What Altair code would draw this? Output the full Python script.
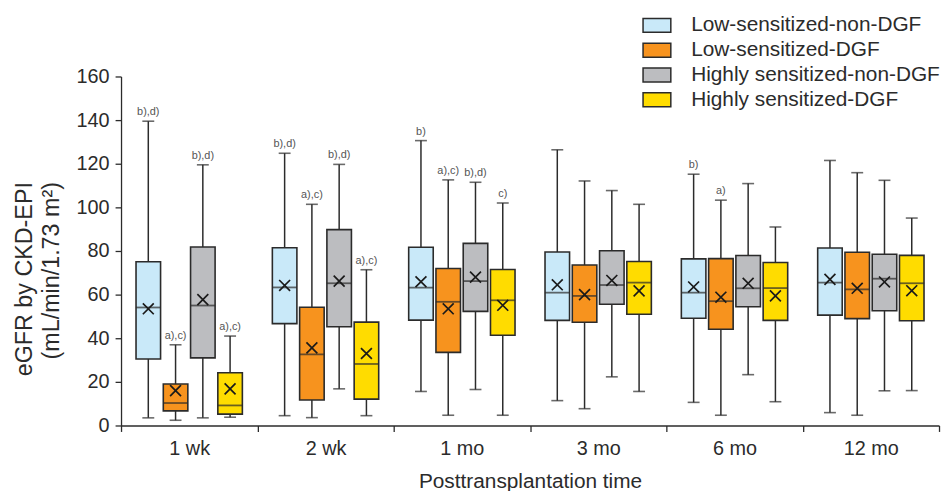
import altair as alt
import pandas as pd

times = ["1 wk", "2 wk", "1 mo", "3 mo", "6 mo", "12 mo"]
groups = ["Low-sensitized-non-DGF", "Low-sensitized-DGF",
          "Highly sensitized-non-DGF", "Highly sensitized-DGF"]
colors = ["#c9e9f9", "#f7931e", "#bcbdc0", "#ffdc00"]

# Low-sensitized-non-DGF
lnd_min = [3.5, 4.5, 15.6, 11.4, 10.6, 5.9]
lnd_q1 = [30.5, 46.7, 48.3, 48.2, 49.2, 50.6]
lnd_med = [54.1, 63.3, 63.2, 60.9, 60.9, 65.5]
lnd_q3 = [75.1, 81.5, 81.7, 79.5, 76.4, 81.4]
lnd_max = [139.5, 124.8, 130.6, 126.4, 115.2, 121.5]
lnd_mean = [53.5, 64.2, 65.9, 64.5, 63.5, 67.0]
lnd_note = ["b),d)", "b),d)", "b)", "", "b)", ""]

# Low-sensitized-DGF
ld_min = [2.4, 3.6, 4.7, 7.7, 4.7, 4.7]
ld_q1 = [6.7, 11.7, 33.5, 47.3, 44.1, 49.0]
ld_med = [10.3, 32.6, 56.7, 59.4, 57.0, 62.4]
ld_q3 = [19.0, 54.2, 72.0, 73.6, 76.5, 79.4]
ld_max = [37.0, 101.4, 112.6, 112.1, 103.3, 115.9]
ld_mean = [16.0, 35.6, 53.5, 60.0, 58.8, 62.9]
ld_note = ["a),c)", "a),c)", "a),c)", "", "a)", ""]

# Highly sensitized-non-DGF
hnd_min = [3.5, 16.8, 16.5, 22.3, 23.3, 15.9]
hnd_q1 = [31.0, 45.3, 52.3, 55.6, 54.4, 52.6]
hnd_med = [55.0, 65.2, 66.2, 64.4, 62.9, 67.3]
hnd_q3 = [81.8, 89.8, 83.5, 80.1, 77.9, 78.5]
hnd_max = [119.5, 119.7, 111.5, 107.7, 110.9, 112.4]
hnd_mean = [57.7, 66.2, 68.0, 66.5, 65.2, 65.8]
hnd_note = ["b),d)", "b),d)", "b),d)", "", "", ""]

# Highly sensitized-DGF
hd_min = [3.8, 4.5, 4.7, 15.6, 10.9, 16.0]
hd_q1 = [5.2, 12.1, 41.4, 51.0, 48.2, 48.0]
hd_med = [9.2, 28.2, 57.4, 65.5, 63.0, 65.2]
hd_q3 = [24.2, 47.4, 71.5, 75.2, 74.7, 78.0]
hd_max = [41.0, 71.4, 102.0, 101.4, 91.0, 95.1]
hd_mean = [16.8, 33.0, 55.1, 61.7, 59.4, 61.8]
hd_note = ["a),c)", "a),c)", "c)", "", "", ""]

series = [
    (lnd_min, lnd_q1, lnd_med, lnd_q3, lnd_max, lnd_mean, lnd_note),
    (ld_min, ld_q1, ld_med, ld_q3, ld_max, ld_mean, ld_note),
    (hnd_min, hnd_q1, hnd_med, hnd_q3, hnd_max, hnd_mean, hnd_note),
    (hd_min, hd_q1, hd_med, hd_q3, hd_max, hd_mean, hd_note),
]

rows = []
for g, (mn, q1, md, q3, mx, me, nt) in zip(groups, series):
    for i, t in enumerate(times):
        rows.append(dict(time=t, group=g, lo=mn[i], q1=q1[i], med=md[i],
                         q3=q3[i], hi=mx[i], mean=me[i], note=nt[i]))
df = pd.DataFrame(rows)

FONT = "Liberation Sans"
INK = "#2b2b2b"

x = alt.X("time:N", sort=times,
          scale=alt.Scale(paddingInner=0, paddingOuter=0),
          axis=alt.Axis(title="Posttransplantation time", labelAngle=0,
                        tickBand="extent", labelFontSize=20, titleFontSize=21,
                        labelPadding=7, titlePadding=13, titleFontWeight="normal"))
xo = alt.XOffset("group:N", sort=groups,
                 scale=alt.Scale(domain=groups, paddingInner=0.1, paddingOuter=0.55))

yscale = alt.Scale(domain=[0, 160], nice=False, zero=True)
yaxis = alt.Axis(title=["eGFR by CKD-EPI", "(mL/min/1.73 m²)"],
                 values=list(range(0, 161, 20)), labelFontSize=20,
                 titleFontSize=23.5, titleFontWeight="normal", labelPadding=6,
                 titlePadding=13, titleLineHeight=27, grid=False,
                 titleAlign="right", titleY=106)


def Y(field):
    return alt.Y(field, type="quantitative", scale=yscale, axis=yaxis)


base = alt.Chart(df).encode(x=x, xOffset=xo)

whisk = base.mark_rule(color=INK, strokeWidth=1.5).encode(
    y=Y("lo"), y2=alt.Y2("hi"))
cap_lo = base.mark_tick(color=INK, size=12, thickness=1.6).encode(y=Y("lo"))
cap_hi = base.mark_tick(color=INK, size=12, thickness=1.6).encode(y=Y("hi"))
box = base.mark_bar(stroke=INK, strokeWidth=1.6).encode(
    y=Y("q1"), y2=alt.Y2("q3"),
    fill=alt.Fill("group:N", sort=groups,
                  scale=alt.Scale(domain=groups, range=colors),
                  legend=alt.Legend(title=None, orient="none", legendX=530,
                                    legendY=-62, symbolType="M-2,-1H2V1H-2Z",
                                    symbolSize=196, symbolStrokeColor=INK,
                                    symbolStrokeWidth=1.5, labelFontSize=21,
                                    labelOffset=24, rowPadding=3, padding=0,
                                    labelColor=INK, labelLimit=400)))
med = base.mark_tick(color=INK, size=25, thickness=1.8).encode(y=Y("med"))
mean = base.mark_point(shape="M-1,-1L1,1M-1,1L1,-1", size=121, strokeWidth=1.7,
                       color="#1a1a1a", filled=False, opacity=1).encode(y=Y("mean"))
note = base.mark_text(fontSize=11, color="#555555", baseline="bottom", dy=-4,
                      font=FONT).encode(y=Y("hi"), text="note:N")

chart = alt.layer(whisk, cap_lo, cap_hi, box, med, mean, note).properties(
    width=825, height=352,
    autosize=alt.AutoSizeParams(type="none"),
    padding={"left": 114, "top": 67, "right": 2, "bottom": 64},
    background="white",
).configure_view(stroke=None).configure_axis(
    domainColor=INK, tickColor=INK, domainWidth=1.3, tickWidth=1.3, tickSize=6,
    labelColor=INK, titleColor=INK, labelFont=FONT, titleFont=FONT,
).configure_legend(labelFont=FONT)

chart.save("out.html", embed_options={"renderer": "svg", "actions": False})
